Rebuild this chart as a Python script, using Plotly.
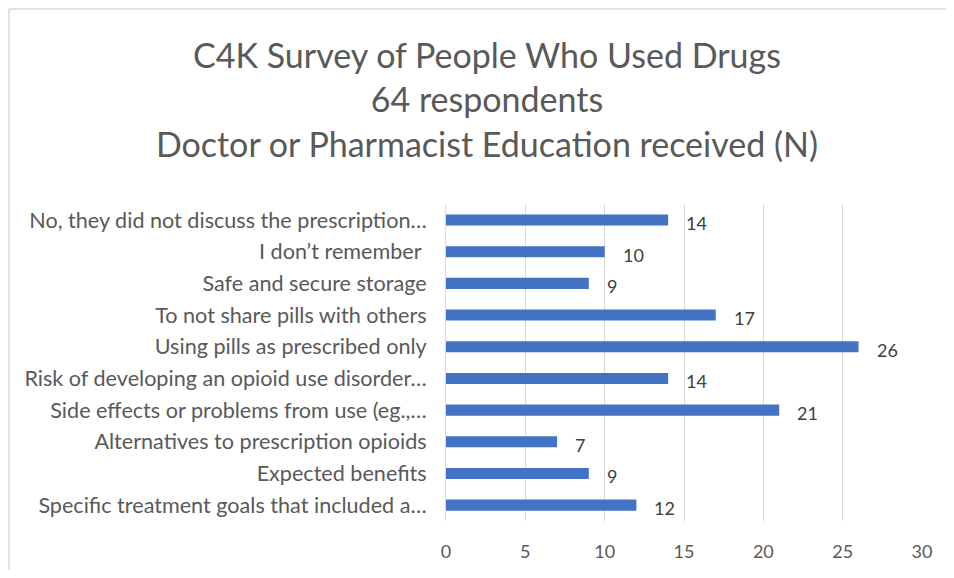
import plotly.graph_objects as go

categories = [
    "No, they did not discuss the prescription…",
    "I don’t remember ",
    "Safe and secure storage",
    "To not share pills with others",
    "Using pills as prescribed only",
    "Risk of developing an opioid use disorder…",
    "Side effects or problems from use (eg.,…",
    "Alternatives to prescription opioids",
    "Expected benefits",
    "Specific treatment goals that included a…",
]
values = [14, 10, 9, 17, 26, 14, 21, 7, 9, 12]
x_ticks = [0, 5, 10, 15, 20, 25, 30]

OFF = 8  # page body margin offset
W, H = 954 - 2 * OFF, 578 - 2 * OFF
# target plot area in page pixels
PL, PR, PT, PB = 446, 922, 204, 521
L = PL - OFF
R = W - (PR - OFF)
T = PT - OFF
B = H - (PB - OFF)
FONT = "Lato"
GREY = "#595959"

fig = go.Figure()
fig.add_trace(go.Bar(
    x=values, y=categories, orientation="h",
    marker=dict(color="#4472C4", line=dict(width=0)),
    hoverinfo="x+y",
))

for c, v in zip(categories, values):
    fig.add_annotation(x=v, y=c, text=str(v), showarrow=False, xanchor="left",
                       xshift=16, yshift=-3, font=dict(family=FONT, size=18, color="#404040"))

pw = PR - PL
ph = PB - PT
def px_x(p):
    return (p - PL) / pw
def px_y(p):
    return 1 - (p - PT) / ph

# chart frame: only top and left edges fall inside the picture
border = dict(color="#d9d9d9", width=1.5)
fig.add_shape(type="line", xref="paper", yref="paper",
              x0=px_x(9), x1=px_x(OFF + W), y0=px_y(9), y1=px_y(9), line=border, layer="below")
fig.add_shape(type="line", xref="paper", yref="paper",
              x0=px_x(9), x1=px_x(9), y0=px_y(9), y1=px_y(OFF + H), line=border, layer="below")

fig.update_layout(
    width=W, height=H,
    margin=dict(l=L, r=R, t=T, b=B, autoexpand=False),
    paper_bgcolor="white", plot_bgcolor="white",
    bargap=0.65,
    showlegend=False,
    title=dict(
        text="C4K Survey of People Who Used Drugs<br>64 respondents<br>Doctor or Pharmacist Education received (N)",
        x=479 / W, xanchor="center", y=1 - 60.1 / H, yanchor="middle",
        font=dict(family=FONT, size=34, color=GREY),
    ),
    font=dict(family=FONT, color=GREY),
)
fig.update_xaxes(
    range=[0, 30], tickvals=x_ticks, showgrid=True, gridcolor="#d9d9d9", gridwidth=1,
    zeroline=False, showline=False, tickfont=dict(family=FONT, size=18, color=GREY),
    ticks="", ticklabelstandoff=18, automargin=False,
)
fig.update_yaxes(
    autorange="reversed", showgrid=False, showline=True, linecolor="#d9d9d9", linewidth=1,
    tickfont=dict(family=FONT, size=21.6, color=GREY), ticks="", ticklabelstandoff=14,
    automargin=False,
)

fig.write_html("out.html")
